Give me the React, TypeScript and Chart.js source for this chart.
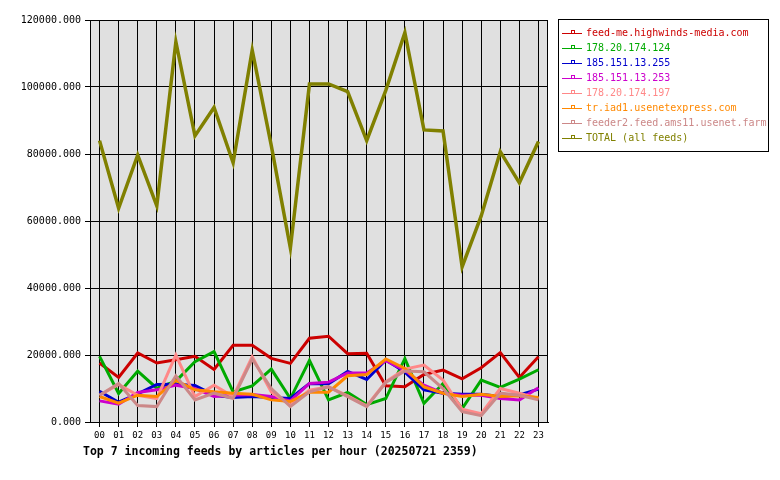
import React, { useEffect, useRef } from "react";
import { Chart, registerables } from "chart.js";

Chart.register(...registerables);

const hours = ["00", "01", "02", "03", "04", "05", "06", "07", "08", "09", "10", "11", "12", "13", "14", "15", "16", "17", "18", "19", "20", "21", "22", "23"];

const seriesNames = [
  "feed-me.highwinds-media.com",
  "178.20.174.124",
  "185.151.13.255",
  "185.151.13.253",
  "178.20.174.197",
  "tr.iad1.usenetexpress.com",
  "feeder2.feed.ams11.usenet.farm",
  "TOTAL (all feeds)",
];

const seriesColors = ["#cc0000", "#00aa00", "#0000cc", "#cc00cc", "#ff8888", "#ff8800", "#cc8888", "#808000"];

const feedMe = [17600, 13300, 20600, 17600, 18600, 19600, 15700, 22900, 22900, 19000, 17500, 25000, 25600, 20400, 20500, 10800, 10500, 14200, 15500, 12900, 16200, 20700, 13300, 19500];
const feed124 = [19600, 8500, 15200, 10100, 12200, 18000, 21000, 9000, 10800, 15800, 7000, 18400, 6600, 8800, 5200, 7000, 18900, 5600, 11500, 4000, 12500, 10300, 12800, 15600];
const feed255 = [9200, 5900, 8400, 11200, 11300, 10900, 8000, 7300, 7600, 7300, 7000, 11500, 11400, 15100, 12700, 18500, 14900, 9600, 8600, 8300, 8300, 7600, 8100, 9800];
const feed253 = [6300, 5300, 8800, 9600, 11000, 10000, 7600, 8000, 8200, 7600, 6300, 11500, 11900, 14600, 14600, 18300, 15400, 11000, 8600, 8000, 8000, 7000, 6600, 10200];
const feed197 = [8000, 11200, 8000, 7000, 20000, 7600, 11000, 7600, 19500, 9000, 5000, 9500, 10500, 7800, 4800, 12000, 15800, 17000, 12500, 3800, 2500, 10000, 8600, 7000];
const feedUsenetExpress = [7600, 5600, 8000, 7600, 12400, 9600, 9000, 8600, 8300, 6600, 6100, 8900, 8900, 13800, 14200, 18800, 16000, 10500, 8600, 7600, 8300, 7600, 7800, 7300];
const feedAms11 = [8000, 11500, 4900, 4600, 13800, 6600, 8600, 7000, 18800, 10000, 4600, 9000, 10500, 7600, 4600, 11800, 15200, 15000, 10000, 3100, 1900, 8600, 8000, 6600];
const totalAll = [84000, 63800, 79700, 64500, 113500, 85400, 93900, 77400, 111000, 82500, 51900, 100900, 100900, 98600, 84000, 99000, 116200, 87200, 86900, 46300, 61500, 80700, 71400, 83700];

const yMin = 0;
const yMax = 120000;
const yStep = 20000;

const chartTitle = "Top 7 incoming feeds by articles per hour (20250721 2359)";

export default function App() {
  const ref = useRef<HTMLCanvasElement>(null);

  useEffect(() => {
    document.body.style.margin = "0";
    const canvas = ref.current;
    if (!canvas) return;
    const series = [feedMe, feed124, feed255, feed253, feed197, feedUsenetExpress, feedAms11, totalAll];

    const framePlugin = {
      id: "frame",
      beforeDraw(chart: any) {
        const { ctx, chartArea } = chart;
        ctx.save();
        ctx.fillStyle = "#ffffff";
        ctx.fillRect(0, 0, chart.width, chart.height);
        ctx.fillStyle = "#e0e0e0";
        ctx.fillRect(chartArea.left, chartArea.top, chartArea.right - chartArea.left, chartArea.bottom - chartArea.top);
        ctx.restore();
      },
      afterDraw(chart: any) {
        const { ctx, chartArea } = chart;
        ctx.save();
        ctx.strokeStyle = "#000000";
        ctx.lineWidth = 1;
        ctx.strokeRect(
          Math.round(chartArea.left) + 0.5,
          Math.round(chartArea.top) + 0.5,
          Math.round(chartArea.right - chartArea.left) - 1,
          Math.round(chartArea.bottom - chartArea.top)
        );
        // title
        ctx.fillStyle = "#000000";
        ctx.font = 'bold 11.5px "DejaVu Sans Mono"';
        ctx.textBaseline = "middle";
        ctx.textAlign = "left";
        ctx.fillText(chartTitle, chartArea.left - 7, 452);
        // legend
        const lx = 558;
        const ly = 19;
        ctx.strokeRect(lx + 0.5, ly + 0.5, 210, 132);
        ctx.font = '10px "DejaVu Sans Mono"';
        chart.data.datasets.forEach((ds: any, i: number) => {
          const y = Math.round(32.5 + i * 15.1) + 0.5;
          ctx.strokeStyle = ds.borderColor;
          ctx.beginPath();
          ctx.moveTo(lx + 4, y);
          ctx.lineTo(lx + 24, y);
          ctx.stroke();
          ctx.strokeRect(lx + 13.5, y - 3, 3, 3);
          ctx.fillStyle = ds.borderColor;
          ctx.fillText(ds.label, lx + 28, y);
        });
        ctx.restore();
      },
    };

    const chart = new Chart(canvas, {
      type: "line",
      data: {
        labels: hours,
        datasets: series.map((d, i) => ({
          label: seriesNames[i],
          data: d,
          borderColor: seriesColors[i],
          backgroundColor: seriesColors[i],
          borderWidth: i === 7 ? 3.5 : 3,
          pointRadius: 0,
          pointHoverRadius: 0,
          tension: 0,
          fill: false,
          order: -i,
        })),
      },
      options: {
        responsive: false,
        animation: false,
        layout: { padding: { left: 0, top: 20, right: 232, bottom: 40 } },
        plugins: {
          legend: { display: false },
          tooltip: { enabled: false },
          title: { display: false },
        },
        scales: {
          x: {
            type: "category",
            offset: true,
            grid: { color: "#000000", lineWidth: 1, tickLength: 5, offset: false, drawTicks: true },
            border: { display: true, color: "#000000" },
            ticks: {
              color: "#000000",
              font: { family: "DejaVu Sans Mono", size: 9 },
              padding: 3,
              maxRotation: 0,
              autoSkip: false,
            },
            afterFit: (s: any) => {
              s.height = 18;
            },
          },
          y: {
            min: yMin,
            max: yMax,
            grid: { color: "#000000", lineWidth: 1, tickLength: 5, drawTicks: true },
            border: { display: true, color: "#000000" },
            ticks: {
              stepSize: yStep,
              color: "#000000",
              font: { family: "DejaVu Sans Mono", size: 10 },
              padding: 4,
              callback: (v: any) => Number(v).toFixed(3),
            },
            afterFit: (s: any) => {
              s.width = 90;
            },
          },
        },
      },
      plugins: [framePlugin],
    } as any);

    return () => chart.destroy();
  }, []);

  return (
    <div style={{ position: "absolute", left: 0, top: 0, width: 780, height: 480 }}>
      <canvas ref={ref} width={780} height={480} />
    </div>
  );
}
